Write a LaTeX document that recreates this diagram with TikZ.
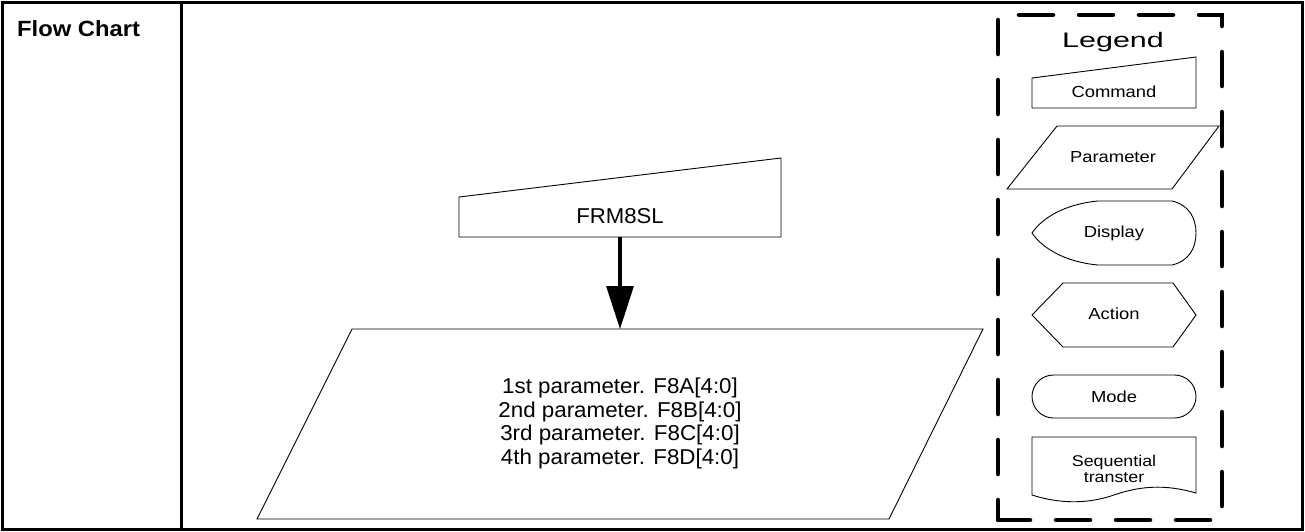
\documentclass[tikz,border=0pt]{standalone}
\usepackage{fontspec}
\setmainfont{Liberation Sans}
\usepackage{graphicx}
\usetikzlibrary{arrows.meta}
\newcommand\hstretch[2]{\scalebox{#1}[1]{#2}}
\begin{document}
\begin{tikzpicture}[x=1pt,y=-1pt,
  shapeline/.style={draw=black,line width=0.9pt,line join=miter},
  frameline/.style={draw=black,line width=3pt},
  legendbox/.style={draw=black,line width=4.5pt,line cap=round,line join=miter,dash pattern=on 34pt off 26pt,dash phase=14pt},
  maintext/.style={font=\fontsize{21.5}{23.5}\selectfont,inner sep=0pt},
  smalltext/.style={font=\fontsize{16}{18}\selectfont,inner sep=0pt,anchor=base},
  flowarrow/.style={line width=3.2pt,-{Triangle[length=43pt,width=27pt]}}
]
\useasboundingbox (0,0) rectangle (1305,531);
% frame
\draw[frameline] (2.5,2.5) rectangle (1302,529.5);
\draw[frameline] (181,2.5) -- (181,529.5);
\node[anchor=base west,inner sep=0pt,font=\fontsize{22}{26}\selectfont\bfseries] (title) at (17,36) {\hstretch{1.08}{Flow Chart}};
% command shape
\draw[shapeline] (459,197) -- (781,158) -- (781,237) -- (459,237) -- cycle;
\node[maintext,anchor=base] (cmdtext) at (620,223) {\hstretch{1.03}{FRM8SL}};
% parameter shape
\draw[shapeline] (352,329) -- (983,329) -- (889,519) -- (257,519) -- cycle;
\node[maintext,anchor=north,align=center] (partext) at (620,378) {\hstretch{1.04}{1st parameter. F8A[4:0]}\\\hstretch{1.04}{2nd parameter. F8B[4:0]}\\\hstretch{1.04}{3rd parameter. F8C[4:0]}\\\hstretch{1.04}{4th parameter. F8D[4:0]}};
% connector
\coordinate (cmdbot) at (620,237);
\coordinate (partop) at (620,329);
\draw[flowarrow] (cmdbot) -- (partop);
% legend box
\draw[legendbox] (998,520) -- (998,15) -- (1222,15) -- (1222,520) -- cycle;
\node[inner sep=0pt,anchor=base,font=\fontsize{21}{24}\selectfont] (legtitle) at (1113,47) {\hstretch{1.45}{Legend}};
% legend: command
\draw[shapeline] (1032,78) -- (1196,57) -- (1196,108) -- (1032,108) -- cycle;
\node[smalltext] (legcmd) at (1114,97) {\hstretch{1.15}{Command}};
% legend: parameter
\draw[shapeline] (1057,126) -- (1219,126) -- (1172,189) -- (1007,189) -- cycle;
\node[smalltext] (legpar) at (1113,162) {\hstretch{1.15}{Parameter}};
% legend: display
\draw[shapeline] (1098,201) -- (1172,201) .. controls (1189,205) and (1196,218) .. (1196,233) .. controls (1196,248) and (1189,261) .. (1172,265) -- (1098,265) .. controls (1065,262) and (1042,248) .. (1032,233) .. controls (1042,218) and (1065,204) .. (1098,201) -- cycle;
\node[smalltext] (legdisp) at (1114,237) {\hstretch{1.15}{Display}};
% legend: action
\draw[shapeline] (1032,315) -- (1063,283) -- (1173,283) -- (1196,315) -- (1173,347) -- (1063,347) -- cycle;
\node[smalltext] (legact) at (1114,319) {\hstretch{1.15}{Action}};
% legend: mode
\draw[shapeline,rounded corners=21.5pt] (1032,375) rectangle (1196,418);
\node[smalltext] (legmode) at (1114,402) {\hstretch{1.15}{Mode}};
% legend: sequential transfer
\draw[shapeline] (1032,437) -- (1196,437) -- (1196,493) .. controls (1165,484) and (1140,486) .. (1114,495) .. controls (1088,504) and (1060,504) .. (1032,495) -- cycle;
\node[smalltext,font=\fontsize{15.5}{18}\selectfont] (legseqa) at (1114,466.5) {\hstretch{1.15}{Sequential}};
\node[smalltext,font=\fontsize{15.5}{18}\selectfont] (legseqb) at (1114,482) {\hstretch{1.15}{transter}};
\end{tikzpicture}
\end{document}
